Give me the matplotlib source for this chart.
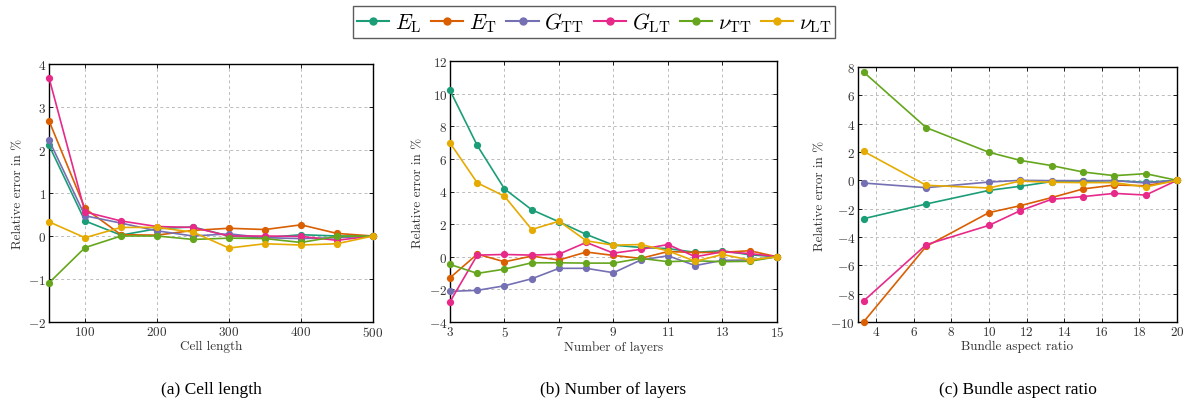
import numpy as np
import matplotlib
matplotlib.use("Agg")
import matplotlib.pyplot as plt
from matplotlib.lines import Line2D

plt.rcParams['font.family'] = 'serif'
plt.rcParams['font.serif'] = ['cmr10']
plt.rcParams['mathtext.fontset'] = 'cm'
plt.rcParams['axes.formatter.use_mathtext'] = True
plt.rcParams['axes.unicode_minus'] = True

# Dark2 palette, one colour per elastic constant
names = [r'$E_\mathrm{L}$', r'$E_\mathrm{T}$', r'$G_\mathrm{TT}$',
         r'$G_\mathrm{LT}$', r'$\nu_\mathrm{TT}$', r'$\nu_\mathrm{LT}$']
colors = ['#1b9e77', '#d95f02', '#7570b3', '#e7298a', '#66a61e', '#e6ab02']

# (a) cell length
cell_length = [50, 100, 150, 200, 250, 300, 350, 400, 450, 500]
err_cell = [
    [2.11, 0.35, 0.02, 0.17, 0.21, 0.00, -0.04, 0.03, 0.00, 0.0],    # E_L
    [2.68, 0.64, 0.03, 0.02, 0.13, 0.18, 0.15, 0.26, 0.06, 0.0],     # E_T
    [2.23, 0.47, 0.30, 0.12, 0.00, 0.05, -0.04, -0.06, -0.04, 0.0],  # G_TT
    [3.68, 0.56, 0.35, 0.22, 0.20, 0.00, 0.00, -0.01, -0.10, 0.0],   # G_LT
    [-1.09, -0.27, 0.00, 0.00, -0.08, -0.05, -0.06, -0.15, -0.01, 0.0],  # nu_TT
    [0.33, -0.04, 0.20, 0.20, 0.09, -0.28, -0.18, -0.21, -0.18, 0.0],    # nu_LT
]

# (b) number of layers
n_layers = [3, 4, 5, 6, 7, 8, 9, 10, 11, 12, 13, 14, 15]
err_layers = [
    [10.2, 6.82, 4.16, 2.88, 2.14, 1.37, 0.71, 0.57, 0.50, 0.27, 0.37, 0.12, 0.0],
    [-1.29, 0.16, -0.31, 0.04, -0.20, 0.29, 0.08, -0.10, 0.32, 0.26, 0.27, 0.37, 0.0],
    [-2.12, -2.06, -1.78, -1.35, -0.71, -0.71, -0.98, -0.20, 0.06, -0.54, -0.22, -0.20, 0.0],
    [-2.76, 0.10, 0.14, 0.10, 0.16, 0.88, 0.22, 0.45, 0.75, 0.00, 0.30, 0.20, 0.0],
    [-0.47, -1.02, -0.76, -0.37, -0.37, -0.39, -0.39, -0.10, -0.30, -0.25, -0.30, -0.28, 0.0],
    [6.98, 4.53, 3.71, 1.67, 2.18, 0.98, 0.71, 0.75, 0.36, -0.28, 0.14, -0.20, 0.0],
]

# (c) bundle aspect ratio
aspect = [10/3, 20/3, 10, 35/3, 40/3, 15, 50/3, 55/3, 20]
err_aspect = [
    [-2.71, -1.67, -0.71, -0.42, -0.09, -0.07, -0.02, -0.14, 0.0],
    [-10.0, -4.66, -2.28, -1.79, -1.22, -0.61, -0.33, -0.38, 0.0],
    [-0.19, -0.52, -0.12, 0.00, -0.02, -0.02, -0.02, -0.19, 0.0],
    [-8.52, -4.54, -3.18, -2.14, -1.34, -1.15, -0.92, -1.04, 0.0],
    [7.65, 3.72, 1.98, 1.41, 1.04, 0.59, 0.33, 0.47, 0.0],
    [2.05, -0.35, -0.54, -0.05, -0.14, -0.16, -0.16, -0.47, 0.0],
]

panels = [
    dict(x=cell_length, y=err_cell, xlabel='Cell length', caption='(a) Cell length',
         xlim=(50, 500), ylim=(-2, 4), xticks=np.arange(100, 501, 100), yticks=np.arange(-2, 5, 1),
         rect=[49/1188, 1-323/406, 324/1188, 258/406]),
    dict(x=n_layers, y=err_layers, xlabel='Number of layers', caption='(b) Number of layers',
         xlim=(3, 15), ylim=(-4, 12), xticks=np.arange(3, 16, 2), yticks=np.arange(-4, 13, 2),
         rect=[450/1188, 1-323/406, 327/1188, 261/406]),
    dict(x=aspect, y=err_aspect, xlabel='Bundle aspect ratio', caption='(c) Bundle aspect ratio',
         xlim=(3.04, 20), ylim=(-10, 8), xticks=np.arange(4, 21, 2), yticks=np.arange(-10, 9, 2),
         rect=[858/1188, 1-323/406, 319/1188, 255/406]),
]

fig = plt.figure(figsize=(11.88, 4.06), dpi=100)

for p in panels:
    ax = fig.add_axes(p['rect'])
    for ys, c in zip(p['y'], colors):
        ax.plot(p['x'], ys, color=c, lw=1.2, marker='o', ms=4.2, clip_on=False, zorder=3)
    ax.set_xlim(*p['xlim'])
    ax.set_ylim(*p['ylim'])
    ax.set_xticks(p['xticks'])
    ax.set_yticks(p['yticks'])
    ax.grid(True, color='#bcbcbc', linestyle=(0, (3, 3)), linewidth=0.7)
    ax.tick_params(direction='in', top=True, right=True, length=3, width=0.6,
                   labelsize=9.5, colors='black', labelcolor='#333333', pad=2)
    for s in ax.spines.values():
        s.set_linewidth(1.0)
    ax.set_xlabel(p['xlabel'], fontsize=9.5, color='#333333', labelpad=1)
    ax.set_ylabel('Relative error in %', fontsize=9.5, color='#333333', labelpad=3)
    cx = p['rect'][0] + p['rect'][2] / 2
    fig.text(cx, 1 - 390/406, p['caption'], ha='center', va='center',
             fontsize=12.5, family='Liberation Serif')

handles = [Line2D([], [], color=c, lw=1.5, marker='o', ms=5) for c in colors]
leg = fig.legend(handles, names, loc='upper center', bbox_to_anchor=(0.5, 0.993),
                 ncol=6, frameon=True, fancybox=False, fontsize=15.5, handlelength=1.5,
                 handletextpad=0.25, columnspacing=0.45, borderpad=0.2,
                 borderaxespad=0.2)
leg.get_frame().set_edgecolor('#333333')
leg.get_frame().set_linewidth(1.0)

fig.savefig('out.png', dpi=100)
